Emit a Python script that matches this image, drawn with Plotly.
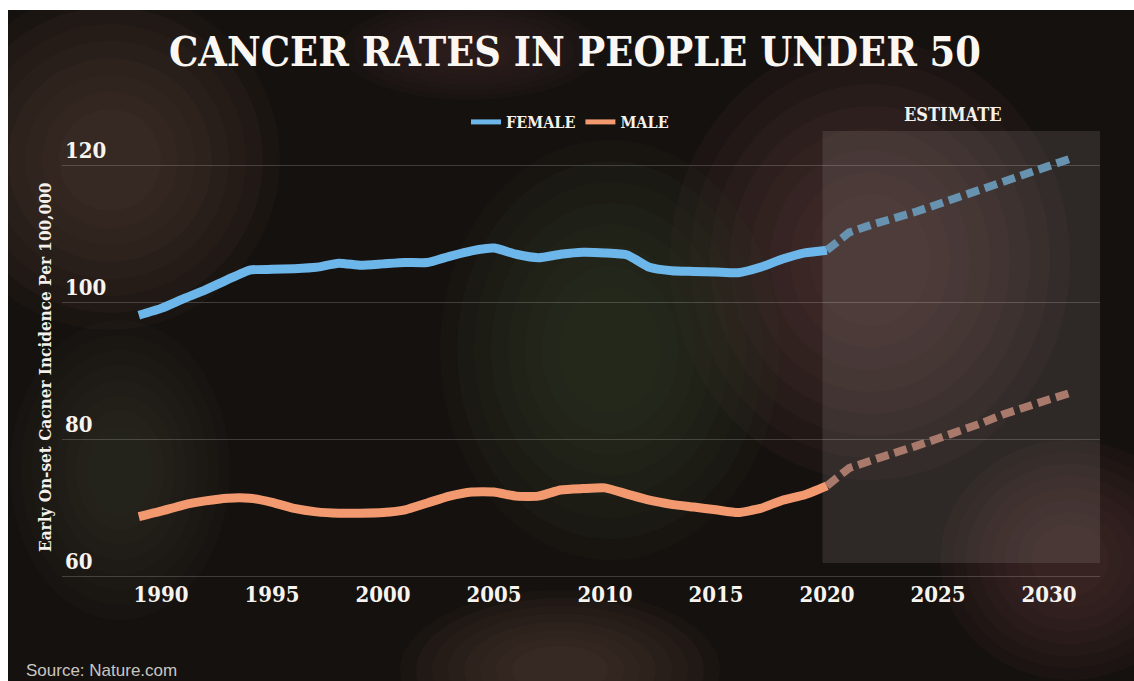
import plotly.graph_objects as go

# ---------------- data ----------------
years_hist = list(range(1989, 2021))
female_hist = [98.2, 99.2, 100.6, 101.9, 103.4, 104.8, 104.9, 105.0, 105.2, 105.8,
               105.5, 105.7, 105.9, 105.9, 106.8, 107.6, 108.0, 107.1, 106.6, 107.1,
               107.4, 107.3, 107.0, 105.2, 104.7, 104.6, 104.5, 104.4, 105.2, 106.4,
               107.3, 107.7]
male_hist = [68.8, 69.6, 70.5, 71.1, 71.5, 71.5, 70.9, 70.0, 69.5, 69.3,
             69.3, 69.4, 69.8, 70.8, 71.8, 72.4, 72.4, 71.8, 71.8, 72.7,
             72.9, 73.0, 72.1, 71.2, 70.6, 70.2, 69.8, 69.4, 70.0, 71.2,
             72.0, 73.3]
years_est = list(range(2020, 2032))
female_est = [107.7, 110.3, 111.4, 112.2, 113.3, 114.4, 115.5, 116.6, 117.7, 118.9, 119.9, 121.1]
male_est = [73.3, 75.9, 77.0, 77.9, 79.1, 80.2, 81.2, 82.5, 83.8, 85.0, 85.9, 86.9]

x_ticks = [1990, 1995, 2000, 2005, 2010, 2015, 2020, 2025, 2030]
y_ticks = [60, 80, 100, 120]
estimate_span = (2019.8, 2032.3)

# ---------------- layout helpers ----------------
W, H = 1134, 681
ML, MR, MT, MB = 62, 34, 120, 102
PW, PH = W - ML - MR, H - MT - MB


def px_x(px):
    return (px - ML) / PW


def px_y(py):
    return (H - MB - py) / PH


SERIF = "DejaVu Serif Condensed, DejaVu Serif, serif"
BLUE = "#6db6ea"
SALMON = "#f3996f"
BLUE_EST = "#6793b1"
SALMON_EST = "#a9796b"

fig = go.Figure()

fig.add_trace(go.Scatter(x=years_hist, y=female_hist, mode="lines", name="FEMALE",
                         line=dict(color=BLUE, width=9, shape="spline", smoothing=0.5)))
fig.add_trace(go.Scatter(x=years_hist, y=male_hist, mode="lines", name="MALE",
                         line=dict(color=SALMON, width=9, shape="spline", smoothing=0.5)))
fig.add_trace(go.Scatter(x=years_est, y=female_est, mode="lines", showlegend=False,
                         line=dict(color=BLUE_EST, width=8, dash="13px,6px")))
fig.add_trace(go.Scatter(x=years_est, y=male_est, mode="lines", showlegend=False,
                         line=dict(color=SALMON_EST, width=8, dash="13px,6px")))

shapes = []
# dark image background
shapes.append(dict(type="rect", xref="paper", yref="paper", layer="below",
                   x0=px_x(0), x1=px_x(W + 5), y0=px_y(H + 5), y1=px_y(0),
                   fillcolor="#15110f", line=dict(width=0)))
# soft blurred blobs imitating the photo background
blobs = [
    (110, 160, 170, 170, (92, 64, 60)),
    (870, 260, 200, 220, (96, 68, 66)),
    (610, 350, 170, 210, (60, 62, 46)),
    (560, 670, 160, 80, (86, 62, 58)),
    (120, 470, 110, 150, (50, 55, 40)),
    (1070, 560, 130, 120, (84, 60, 57)),
    (470, 50, 130, 50, (64, 48, 44)),
]
steps = [1.0, 0.9, 0.8, 0.7, 0.6, 0.5, 0.4, 0.3]
for cx, cy, rx, ry, (r, g, b) in blobs:
    for s in steps:
        shapes.append(dict(type="circle", xref="paper", yref="paper", layer="below",
                           x0=px_x(cx - rx * s), x1=px_x(cx + rx * s),
                           y0=px_y(cy + ry * s), y1=px_y(cy - ry * s),
                           fillcolor=f"rgba({r},{g},{b},0.09)", line=dict(width=0)))
# white border on top and left
shapes.append(dict(type="rect", xref="paper", yref="paper", layer="below",
                   x0=px_x(-5), x1=px_x(W + 5), y0=px_y(10), y1=px_y(-5),
                   fillcolor="#ffffff", line=dict(width=0)))
shapes.append(dict(type="rect", xref="paper", yref="paper", layer="below",
                   x0=px_x(-5), x1=px_x(8), y0=px_y(H + 5), y1=px_y(-5),
                   fillcolor="#ffffff", line=dict(width=0)))
# estimate box
shapes.append(dict(type="rect", xref="x", yref="paper", layer="below",
                   x0=estimate_span[0], x1=estimate_span[1], y0=px_y(563), y1=px_y(131),
                   fillcolor="rgba(150,140,135,0.20)", line=dict(width=0)))

annotations = [
    dict(text="CANCER RATES IN PEOPLE UNDER 50", xref="paper", yref="paper",
         x=px_x(575), y=px_y(52), xanchor="center", yanchor="middle", showarrow=False,
         font=dict(family=SERIF, size=41, color="#faf7f2", weight=700)),
    dict(text="ESTIMATE", xref="paper", yref="paper",
         x=px_x(953), y=px_y(114), xanchor="center", yanchor="middle", showarrow=False,
         font=dict(family=SERIF, size=18, color="#f4f1ec", weight=700)),
    dict(text="Early On-set Cacner Incidence Per 100,000", xref="paper", yref="paper",
         x=px_x(45), y=px_y(368), xanchor="center", yanchor="middle", showarrow=False,
         textangle=-90, font=dict(family=SERIF, size=17, color="#f4f1ec", weight=700)),
    dict(text="Source: Nature.com", xref="paper", yref="paper",
         x=px_x(24), y=px_y(670), xanchor="left", yanchor="middle", showarrow=False,
         font=dict(family="Liberation Sans Narrow, Arial Narrow, sans-serif", size=17,
                   color="#c9c6c2")),
]

fig.update_layout(
    width=W, height=H,
    margin=dict(l=ML, r=MR, t=MT, b=MB, pad=0),
    paper_bgcolor="#15110f",
    plot_bgcolor="rgba(0,0,0,0)",
    shapes=shapes,
    annotations=annotations,
    showlegend=True,
    legend=dict(orientation="h", x=px_x(570), y=px_y(122), xanchor="center", yanchor="middle",
                bgcolor="rgba(0,0,0,0)", font=dict(family=SERIF, size=16, color="#f4f1ec", weight=700),
                itemwidth=30, itemsizing="constant", traceorder="normal"),
    xaxis=dict(range=[1985.54, 2032.3], tickmode="array", tickvals=x_ticks,
               showgrid=False, zeroline=False, showline=False, ticks="",
               tickfont=dict(family=SERIF, size=22, color="#f7f4ef", weight=700)),
    yaxis=dict(range=[59.7, 126.7], tickmode="array", tickvals=y_ticks,
               showgrid=True, gridcolor="rgba(255,255,255,0.18)", gridwidth=1,
               zeroline=False, showline=False, ticks="",
               ticklabelposition="inside top",
               tickfont=dict(family=SERIF, size=22, color="#f7f4ef", weight=700)),
)

fig.write_html("out.html", config={"displayModeBar": False},
               post_script="document.body.style.margin='0';document.body.style.background='#ffffff';")
